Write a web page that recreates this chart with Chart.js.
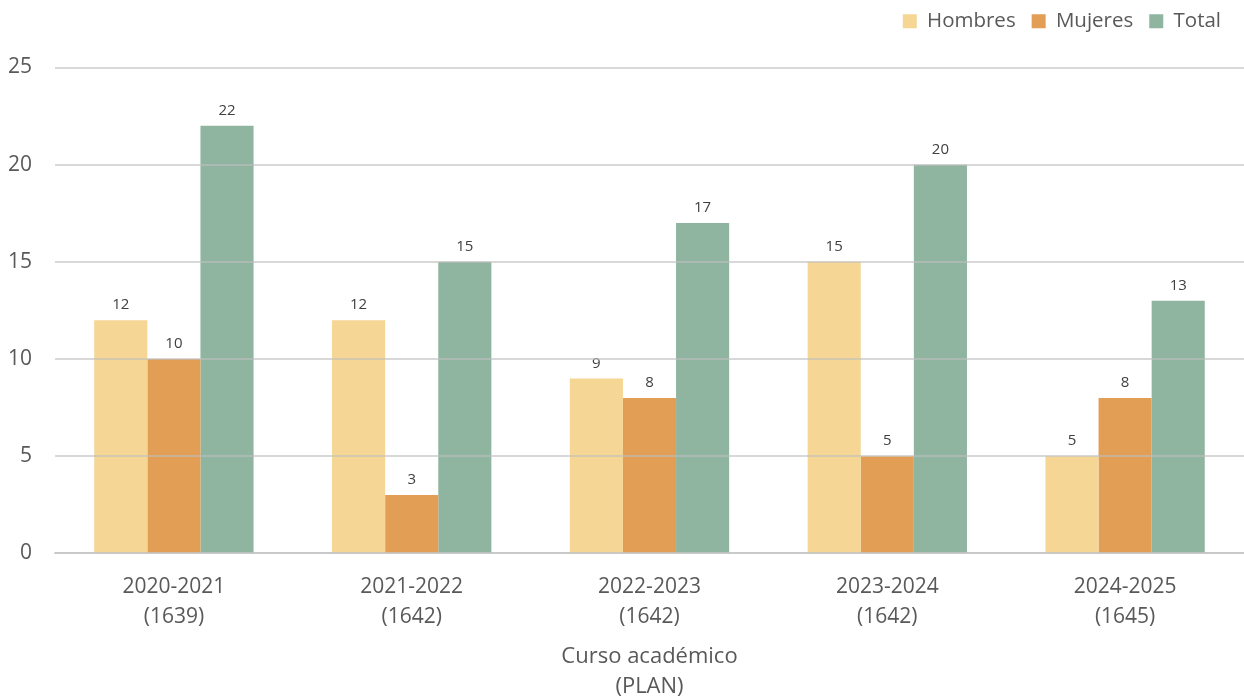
<!DOCTYPE html>
<html>
<head>
<meta charset="utf-8">
<script src="https://cdn.jsdelivr.net/npm/chart.js@4"></script>
<style>
  html, body { margin: 0; padding: 0; background: #fff; }
  #wrap { width: 1244px; height: 697px; }
</style>
</head>
<body>
<div id="wrap"><canvas id="myChart"></canvas></div>
<script>
var cursos = [
  ["2020-2021", "(1639)"],
  ["2021-2022", "(1642)"],
  ["2022-2023", "(1642)"],
  ["2023-2024", "(1642)"],
  ["2024-2025", "(1645)"],
];
var hombres = [12, 12, 9, 15, 5];
var mujeres = [10, 3, 8, 5, 8];
var total = [22, 15, 17, 20, 13];

var textColor = "#595959";
var fontFamily = "'Open Sans', sans-serif";

// etiquetas encima de cada barra
const valueLabels = {
  id: "valueLabels",
  afterDatasetsDraw(chart) {
    const ctx = chart.ctx;
    ctx.save();
    ctx.font = "15px " + fontFamily;
    ctx.fillStyle = "#404040";
    ctx.textAlign = "center";
    ctx.textBaseline = "middle";
    chart.data.datasets.forEach((ds, i) => {
      chart.getDatasetMeta(i).data.forEach((bar, j) => {
        ctx.fillText(ds.data[j], bar.x, bar.y - 15);
      });
    });
    ctx.restore();
  },
};

// leyenda: mas espacio debajo y un margen a la derecha
const legendGap = {
  id: "legendGap",
  beforeInit(chart) {
    const fit = chart.legend.fit;
    chart.legend.fit = function () {
      fit.call(this);
      this.height += 21;
    };
  },
  afterLayout(chart) {
    chart.legend.right -= 7;
    chart.legend.top -= 5;
  },
};

new Chart("myChart", {
  type: "bar",
  data: {
    labels: cursos,
    datasets: [
      { label: "Hombres", data: hombres, backgroundColor: "#F5D694" },
      { label: "Mujeres", data: mujeres, backgroundColor: "#E39E55" },
      { label: "Total", data: total, backgroundColor: "#8FB5A1" },
    ],
  },
  options: {
    responsive: true,
    maintainAspectRatio: false,
    animation: false,
    layout: { padding: { top: 0, right: 0, left: 8, bottom: 0 } },
    datasets: {
      bar: { categoryPercentage: 0.67, barPercentage: 1 },
    },
    plugins: {
      legend: {
        position: "top",
        align: "end",
        labels: {
          boxWidth: 14,
          boxHeight: 14,
          color: textColor,
          font: { size: 20.5, family: fontFamily },
          padding: 16,
        },
      },
      tooltip: { enabled: false },
    },
    scales: {
      x: {
        afterFit(scale) {
          scale.paddingLeft = 0;
          scale.paddingRight = 0;
        },
        border: { display: true, color: "#D9D9D9", width: 2 },
        grid: { display: false },
        ticks: {
          color: textColor,
          font: { size: 21, family: fontFamily, lineHeight: 1.45 },
          padding: 10,
        },
        title: {
          display: true,
          text: ["Curso académico", "(PLAN)"],
          color: textColor,
          font: { size: 22, family: fontFamily, lineHeight: 1.38 },
          padding: { top: -1, bottom: -5 },
        },
      },
      y: {
        afterFit(scale) {
          scale.width = 47;
        },
        min: 0,
        max: 25,
        border: { display: false },
        grid: { color: "rgba(190,190,190,0.6)", lineWidth: 2, z: 1, drawTicks: false },
        ticks: {
          stepSize: 5,
          color: textColor,
          font: { size: 21, family: fontFamily },
          padding: 23,
        },
      },
    },
  },
  plugins: [valueLabels, legendGap],
});
</script>
</body>
</html>
